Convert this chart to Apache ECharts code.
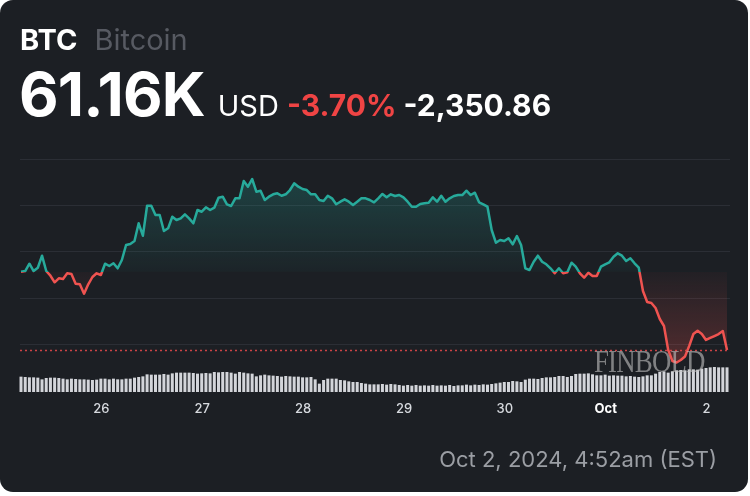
<!DOCTYPE html>
<html>
<head>
<meta charset="utf-8">
<script src="https://cdn.jsdelivr.net/npm/echarts@6.0.0/dist/echarts.min.js"></script>
<style>
  html, body { margin:0; padding:0; width:750px; height:496px; background:#ffffff; overflow:hidden; }
  #card { position:absolute; left:0; top:0; width:748px; height:492px; background:#1c1f24; border-radius:13px; overflow:hidden;
          font-family: Inter, Roboto, "Noto Sans", sans-serif; }
  #chart { position:absolute; left:0; top:0; width:750px; height:496px; }
  #l1 { position:absolute; left:20px; top:22px; white-space:nowrap; font-size:29px; line-height:36px; }
  #l1 .sym { color:#ffffff; font-weight:700; }
  #l1 .nm { color:#575a62; font-weight:400; margin-left:17px; }
  #l2 { position:absolute; left:19px; top:60px; white-space:nowrap; display:flex; align-items:baseline; }
  #l2 .price { color:#ffffff; font-weight:700; font-size:61px; letter-spacing:-0.8px; line-height:68px; }
  #l2 .cur { color:#ffffff; font-weight:400; font-size:29px; margin-left:13px; }
  #l2 .pct { color:#ef4444; font-weight:700; font-size:30px; margin-left:8px; }
  #l2 .chg { color:#ffffff; font-weight:700; font-size:30px; margin-left:7px; }
  #foot { position:absolute; right:31px; top:444px; color:#9b9ea4; font-size:22px; line-height:30px; white-space:nowrap; }
  #wm { position:absolute; left:594px; top:344px; font-family:"Liberation Serif", "DejaVu Serif", serif; font-size:32px; line-height:34px;
        color:rgba(190,190,190,0.62); letter-spacing:-1px; transform:scaleX(0.84); transform-origin:left top; white-space:nowrap; pointer-events:none; }
</style>
</head>
<body>
<div id="card">
  <div id="chart"></div>
  <div id="l1"><span class="sym">BTC</span><span class="nm">Bitcoin</span></div>
  <div id="l2"><span class="price">61.16K</span><span class="cur">USD</span><span class="pct">-3.70%</span><span class="chg">-2,350.86</span></div>
  <div id="wm">FINBOLD</div>
  <div id="foot">Oct 2, 2024, 4:52am (EST)</div>
</div>
<script>
// Hourly BTC price (USD), starting Sep 25 2024 04:52 EST
const prices = [
  63845, 63867, 64104, 63867, 63974, 64364, 63867, 63715, 63501, 63631,
  63608, 63793, 63770, 63456, 63436, 63131, 63436, 63673, 63793, 63738,
  64104, 64030, 64117, 63955, 64224, 64710, 64743, 64840, 65414, 65012,
  65985, 65985, 65683, 65683, 65165, 65252, 65628, 65521, 65576, 65706,
  65576, 65414, 65846, 65790, 65933, 65846, 65920, 66244, 66277, 66031,
  65975, 66225, 66225, 66786, 66601, 66851, 66439, 66471, 66170, 66277,
  66355, 66387, 66309, 66355, 66494, 66712, 66601, 66527, 66494, 66355,
  66355, 66170, 66137, 66309, 66225, 66031, 66115, 66193, 66115, 66008,
  66115, 66225, 66225, 66170, 66095, 66225, 66365, 66257, 66355, 66300,
  66332, 66257, 66115, 65953, 65953, 66040, 66063, 66082, 66257, 66115,
  66309, 66115, 66225, 66300, 66332, 66332, 66471, 66332, 66407, 66095,
  66031, 65953, 65197, 64785, 64873, 64840, 64928, 64733, 65002, 64710,
  63955, 63900, 64169, 64364, 64169, 64085, 63955, 63793, 63955, 63793,
  63825, 64137, 64007, 63793, 63650, 63812, 63705, 63705, 64007, 64085,
  64150, 64331, 64441, 64364, 64192, 64279, 64117, 63974, 63219, 62862,
  62830, 62667, 62311, 62084, 61305, 60949, 60900, 60981, 61095, 61435,
  61824, 61931, 61824, 61630, 61695, 61759, 61824, 61922, 61305
];
// Rolling volume (B USD) per hour
const volumes = [
  30.7, 30.0, 29.3, 29.3, 28.7, 25.3, 28.0, 28.7, 28.7, 28.0,
  26.7, 25.3, 26.7, 26.0, 25.3, 25.3, 24.7, 24.0, 24.7, 26.7,
  26.7, 25.3, 26.7, 25.3, 25.3, 26.7, 26.7, 28.7, 30.0, 31.3,
  35.3, 34.7, 34.7, 34.7, 36.0, 34.7, 37.3, 38.7, 38.7, 38.7,
  38.7, 38.0, 36.7, 37.3, 38.0, 37.3, 40.0, 39.3, 40.0, 40.0,
  38.7, 36.7, 40.0, 38.7, 37.3, 36.7, 31.3, 33.3, 34.7, 33.3,
  32.7, 32.0, 30.7, 32.0, 31.3, 30.7, 30.7, 29.3, 29.3, 30.0,
  25.3, 16.7, 24.0, 26.7, 26.7, 26.7, 24.0, 23.3, 21.3, 20.0,
  20.0, 18.0, 16.7, 15.3, 15.3, 15.3,
  16.0, 14.7, 16.0, 15.3, 14.0, 12.7, 14.0, 12.7, 14.0, 12.7,
  13.3, 12.7, 14.0, 12.7, 13.3, 12.7, 14.0, 12.0, 13.3, 13.3,
  14.7, 13.3, 14.7, 14.0, 15.3, 14.7, 16.0, 17.3, 18.7, 20.0,
  20.0, 22.0, 21.3, 20.0, 24.7, 26.7, 26.7, 26.0, 28.0, 29.3,
  29.3, 30.0, 32.0, 32.0, 30.0, 32.0, 36.0, 36.7, 36.7, 37.3,
  35.3, 33.3, 33.3, 34.7, 32.7, 33.3, 32.7, 32.7, 31.3, 32.0,
  30.7, 30.0, 31.3, 33.3, 33.3, 36.7, 40.0, 41.3, 38.7, 41.3,
  43.3, 44.0, 43.3, 45.3, 45.3, 44.7, 46.7, 48.0, 49.3, 50.0,
  49.3, 49.3, 49.3
];
// Day tick positions (hours after start) and their labels
const tickHours = [19.13, 43.13, 67.13, 91.13, 115.13, 139.13, 163.13];
const tickLabels = ['26', '27', '28', '29', '30', 'Oct', '2'];
const monthLabels = ['Oct'];

const chart = echarts.init(document.getElementById('chart'), null, { renderer: 'canvas' });
const basePrice = prices[0];
const lastPrice = prices[prices.length - 1];
const maxP = Math.max.apply(null, prices);
const minP = Math.min.apply(null, prices);
const split = (maxP - basePrice) / (maxP - minP);
const lineData = prices.map((p, i) => [i, p]);
const volData = volumes.map((v, i) => [i, v]);
const G = '#27aa9b', R = '#ef5350';

const xCommon = { type: 'value', min: -0.24, max: 168.71, splitLine: { show: false }, axisLine: { show: false } };

chart.setOption({
  backgroundColor: 'transparent',
  animation: false,
  grid: [
    { left: 20, right: 20, top: 159, bottom: 105.75 },
    { left: 20, right: 20, bottom: 104, height: 40 }
  ],
  xAxis: [
    Object.assign({}, xCommon, { gridIndex: 0,
      axisTick: { show: false, customValues: tickHours },
      axisLabel: { show: true, customValues: tickHours, margin: 12, color: '#d6d9de', fontSize: 13, fontWeight: 500,
        fontFamily: 'Inter, Roboto, sans-serif',
        formatter: function (v) {
          let idx = 0, best = Infinity;
          tickHours.forEach((t, i) => { const d = Math.abs(t - v); if (d < best) { best = d; idx = i; } });
          const s = tickLabels[idx];
          return monthLabels.indexOf(s) >= 0 ? '{b|' + s + '}' : s;
        },
        rich: { b: { fontWeight: 'bold', color: '#ffffff', fontSize: 13, fontFamily: 'Inter, Roboto, sans-serif' } }
      } }),
    Object.assign({}, xCommon, { gridIndex: 1, axisTick: { show: false }, axisLabel: { show: false } })
  ],
  yAxis: [
    { type: 'value', gridIndex: 0, min: 60000, max: 67500, interval: 1500,
      axisLabel: { show: false }, axisLine: { show: false }, axisTick: { show: false },
      splitLine: { show: true, lineStyle: { width: 1, color: ['rgba(0,0,0,0)', '#2b2e35', '#2b2e35', '#2b2e35', '#2b2e35', '#2b2e35'] } } },
    { type: 'value', gridIndex: 1, min: 0, max: 80, show: false, splitLine: { show: false } }
  ],
  series: [
    { type: 'line', xAxisIndex: 0, yAxisIndex: 0, data: lineData, showSymbol: false, symbol: 'none', z: 3,
      lineStyle: { width: 2.5, join: 'round',
        color: new echarts.graphic.LinearGradient(0, 0, 0, 1, [
          { offset: 0, color: G }, { offset: split, color: G },
          { offset: split, color: R }, { offset: 1, color: R }
        ]) },
      areaStyle: { origin: basePrice, opacity: 1,
        color: new echarts.graphic.LinearGradient(0, 0, 0, 1, [
          { offset: 0, color: 'rgba(38,166,154,0.26)' },
          { offset: split, color: 'rgba(38,166,154,0.04)' },
          { offset: split, color: 'rgba(239,83,80,0.03)' },
          { offset: 1, color: 'rgba(239,83,80,0.26)' }
        ]) },
      markLine: { silent: true, symbol: 'none', label: { show: false },
        lineStyle: { color: '#e0474a', type: [2, 3], width: 1.4, opacity: 0.9 },
        data: [ { yAxis: lastPrice } ] }
    },
    { type: 'bar', xAxisIndex: 1, yAxisIndex: 1, data: volData, barWidth: 3, z: 1,
      itemStyle: { color: '#d3d5da' } }
  ]
});
</script>
</body>
</html>
